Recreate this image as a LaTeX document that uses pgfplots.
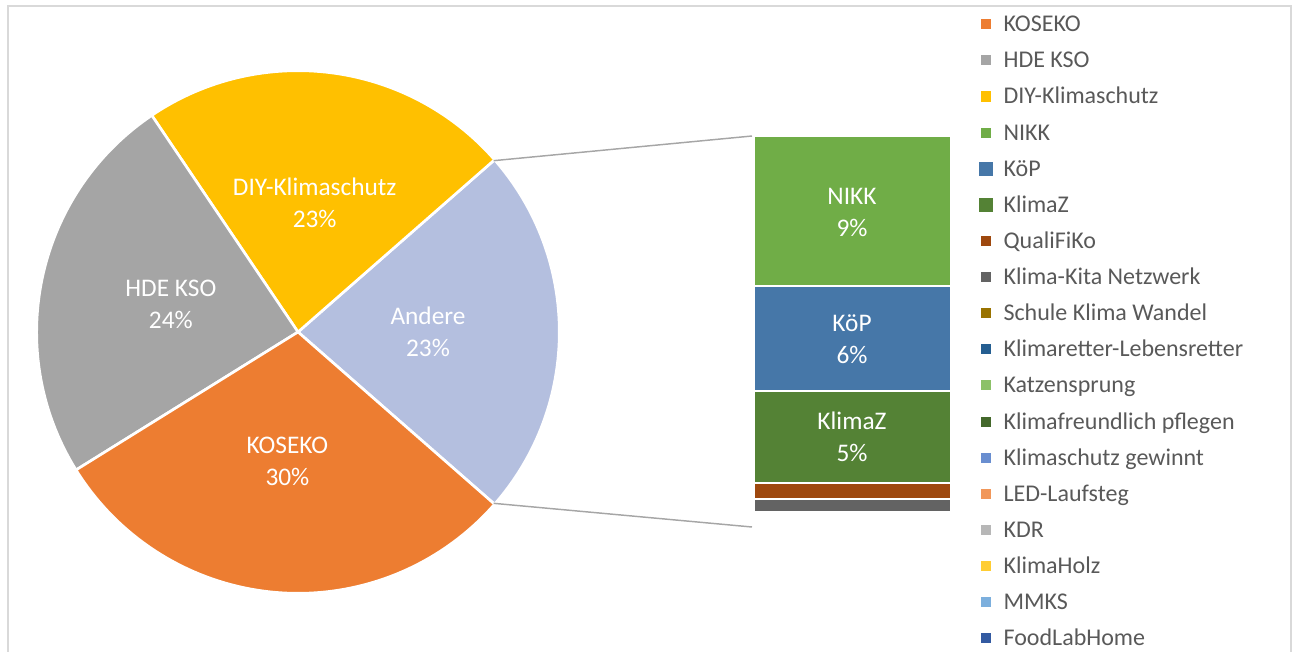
\documentclass[border=0pt]{standalone}
\usepackage{pgfplots}
\pgfplotsset{compat=1.18}
\usepackage{fontspec}
\setmainfont{Carlito}

\definecolor{cKOSEKO}{HTML}{ED7D31}
\definecolor{cHDE}{HTML}{A5A5A5}
\definecolor{cDIY}{HTML}{FFC000}
\definecolor{cAndere}{HTML}{B4BFDF}
\definecolor{cNIKK}{HTML}{70AD47}
\definecolor{cKoP}{HTML}{4677A8}
\definecolor{cKlimaZ}{HTML}{548235}
\definecolor{cQuali}{HTML}{9E480E}
\definecolor{cKita}{HTML}{636363}
\definecolor{cSchule}{HTML}{997300}
\definecolor{cRetter}{HTML}{255E91}
\definecolor{cKatzen}{HTML}{8CC168}
\definecolor{cPflegen}{HTML}{43682B}
\definecolor{cGewinnt}{HTML}{698ED0}
\definecolor{cLED}{HTML}{F1975A}
\definecolor{cKDR}{HTML}{B7B7B7}
\definecolor{cHolz}{HTML}{FFCD33}
\definecolor{cMMKS}{HTML}{7CAFDD}
\definecolor{cFood}{HTML}{335AA1}
\definecolor{legtext}{HTML}{595959}
\definecolor{framegray}{HTML}{D9D9D9}
\definecolor{conn}{HTML}{A6A6A6}

\newcommand{\legsq}[1]{\addlegendimage{legend image code/.code={\fill[#1] (-3.4pt,2.4pt) rectangle (3.4pt,9.2pt);\path[draw=none,fill=none] (-4.9pt,2.4pt) rectangle (4.9pt,9.2pt);}}}
\newcommand{\legsqbig}[1]{\addlegendimage{legend image code/.code={\fill[#1] (-4.9pt,0.9pt) rectangle (4.9pt,10.7pt);}}}
\newcommand{\labfont}{\fontsize{19pt}{24pt}\selectfont}

% pie data (percent)
\def\vAndere{22.9}
\def\vDIY{23.0}
\def\vHDE{24.4}
\def\vKOSEKO{29.7}

\begin{document}
\begin{tikzpicture}
\pgfmathsetmacro\aA{-1.8*\vAndere}
\pgfmathsetmacro\aB{\aA+3.6*\vAndere}
\pgfmathsetmacro\aC{\aB+3.6*\vDIY}
\pgfmathsetmacro\aD{\aC+3.6*\vHDE}
\pgfmathsetmacro\aE{\aD+3.6*\vKOSEKO}
\pgfmathsetmacro\mA{(\aA+\aB)/2}
\pgfmathsetmacro\mB{(\aB+\aC)/2}
\pgfmathsetmacro\mC{(\aC+\aD)/2}
\pgfmathsetmacro\mD{(\aD+\aE)/2}
\useasboundingbox (0,0) rectangle (969pt,489pt);
% stacked bar of "Andere" (percent of total), top = 136px, left = 754px
\begin{axis}[
  at={(565.5pt,387pt)}, anchor=north west,
  scale only axis, width=147.75pt, height=293.25pt,
  xmin=0, xmax=1, ymin=0, ymax=22.92, y dir=reverse,
  hide axis, clip=false,
  ybar stacked, bar width=147.75pt,
  every axis plot/.append style={draw=white, line width=1.5pt},
]
\addplot[fill=cNIKK] coordinates {(0.5,8.78)};
\addplot[fill=cKoP] coordinates {(0.5,6.15)};
\addplot[fill=cKlimaZ] coordinates {(0.5,5.39)};
\addplot[fill=cQuali] coordinates {(0.5,0.97)};
\addplot[fill=cKita] coordinates {(0.5,0.73)};
\addplot[fill=cSchule] coordinates {(0.5,0.02)};
\addplot[fill=cRetter] coordinates {(0.5,0.02)};
\addplot[fill=cKatzen] coordinates {(0.5,0.02)};
\addplot[fill=cPflegen] coordinates {(0.5,0.02)};
\addplot[fill=cGewinnt] coordinates {(0.5,0.02)};
\addplot[fill=cLED] coordinates {(0.5,0.02)};
\addplot[fill=cKDR] coordinates {(0.5,0.02)};
\addplot[fill=cHolz] coordinates {(0.5,0.02)};
\addplot[fill=cMMKS] coordinates {(0.5,0.02)};
\addplot[fill=cFood] coordinates {(0.5,0.02)};
\end{axis}
\begin{axis}[
  at={(0pt,489pt)}, anchor=north west,
  scale only axis, width=969pt, height=489pt,
  xmin=0, xmax=1292, ymin=0, ymax=652, y dir=reverse,
  hide axis, clip=false,
  legend style={at={(axis cs:978.5,5.94)}, anchor=north west,
    draw=none, fill=none, inner sep=0pt, outer sep=0pt,
    column sep=8.6pt, row sep=0pt,
    font=\fontsize{18pt}{21.6pt}\selectfont, text=legtext,
    cells={anchor=base west},
    nodes={inner sep=0pt, text height=19.35pt, text depth=7.74pt}},
]
% frame
\draw[framegray, line width=1.1pt] (8,720) -- (8,6) -- (1291,6) -- (1291,720);
% pie slices
\filldraw[fill=cAndere, draw=white, line width=2pt] (298,332) -- ++(\aA:196pt) arc[start angle=\aA, end angle=\aB, radius=196pt] -- cycle;
\filldraw[fill=cDIY, draw=white, line width=2pt] (298,332) -- ++(\aB:196pt) arc[start angle=\aB, end angle=\aC, radius=196pt] -- cycle;
\filldraw[fill=cHDE, draw=white, line width=2pt] (298,332) -- ++(\aC:196pt) arc[start angle=\aC, end angle=\aD, radius=196pt] -- cycle;
\filldraw[fill=cKOSEKO, draw=white, line width=2pt] (298,332) -- ++(\aD:196pt) arc[start angle=\aD, end angle=\aE, radius=196pt] -- cycle;
% pie labels
\path (298,332) ++(\mA:97.5pt) node[align=center, text=white, font=\labfont, inner sep=0pt] {Andere\\23\%};
\path (298,332) ++(\mB:97.5pt) node[align=center, text=white, font=\labfont, inner sep=0pt] {DIY-Klimaschutz\\23\%};
\path (298,332) ++(\mC:97.5pt) node[align=center, text=white, font=\labfont, inner sep=0pt] {HDE KSO\\24\%};
\path (298,332) ++(\mD:97.5pt) node[align=center, text=white, font=\labfont, inner sep=0pt] {KOSEKO\\30\%};
% bar labels
\node[align=center, text=white, font=\labfont, inner sep=0pt] at (852,212) {NIKK\\9\%};
\node[align=center, text=white, font=\labfont, inner sep=0pt] at (852,339) {KöP\\6\%};
\node[align=center, text=white, font=\labfont, inner sep=0pt] at (852,437) {KlimaZ\\5\%};
% connectors
\draw[conn, line width=1.1pt] (298,332) ++(\aB:195pt) -- (752,136);
\draw[conn, line width=1.1pt] (298,332) ++(\aA:195pt) -- (752,527);
% legend
\legsq{cKOSEKO}\addlegendentry{KOSEKO}
\legsq{cHDE}\addlegendentry{HDE KSO}
\legsq{cDIY}\addlegendentry{DIY-Klimaschutz}
\legsq{cNIKK}\addlegendentry{NIKK}
\legsqbig{cKoP}\addlegendentry{KöP}
\legsqbig{cKlimaZ}\addlegendentry{KlimaZ}
\legsq{cQuali}\addlegendentry{QualiFiKo}
\legsq{cKita}\addlegendentry{Klima-Kita Netzwerk}
\legsq{cSchule}\addlegendentry{Schule Klima Wandel}
\legsq{cRetter}\addlegendentry{Klimaretter-Lebensretter}
\legsq{cKatzen}\addlegendentry{Katzensprung}
\legsq{cPflegen}\addlegendentry{Klimafreundlich pflegen}
\legsq{cGewinnt}\addlegendentry{Klimaschutz gewinnt}
\legsq{cLED}\addlegendentry{LED-Laufsteg}
\legsq{cKDR}\addlegendentry{KDR}
\legsq{cHolz}\addlegendentry{KlimaHolz}
\legsq{cMMKS}\addlegendentry{MMKS}
\legsq{cFood}\addlegendentry{FoodLabHome}
\end{axis}
\end{tikzpicture}
\end{document}
